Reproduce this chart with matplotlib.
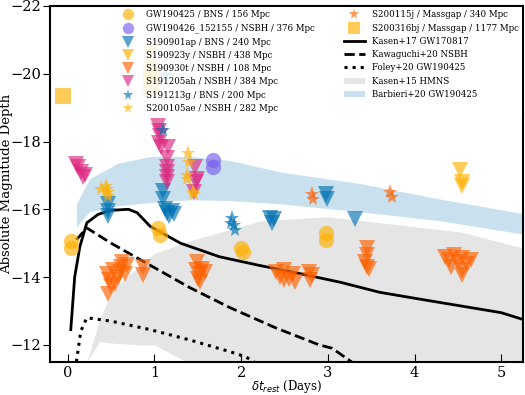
import matplotlib
matplotlib.use('Agg')
import matplotlib.pyplot as plt
import numpy as np

plt.rcParams['font.family'] = 'serif'
plt.rcParams['font.serif'] = ['DejaVu Serif']

# --- observed limits (delta t in days, absolute magnitude) ---
gw190425_x = [0.04, 0.04, 1.04, 1.06, 2.0, 2.02, 2.98, 2.98]
gw190425_y = [-15.05, -14.85, -15.45, -15.25, -14.85, -14.75, -15.3, -15.1]

gw190426_x = [1.67, 1.67]
gw190426_y = [-17.45, -17.25]

s190901ap_x = [0.46, 0.46, 0.47, 1.1, 1.1, 1.12, 1.15, 1.2, 1.17, 1.22, 2.33, 2.38, 2.36, 2.98, 2.99, 3.31]
s190901ap_y = [-16.15, -15.95, -15.8, -16.55, -16.3, -16.0, -15.9, -15.95, -15.8, -15.85, -15.75, -15.7, -15.6, -16.45, -16.3, -15.7]

s190923y_x = [0.95, 0.95, 0.95, 4.53, 4.55, 4.55]
s190923y_y = [-20.6, -20.2, -19.8, -17.15, -16.8, -16.7]

s190930t_x = [0.46, 0.63, 0.87, 0.87, 0.45, 0.48, 0.52, 0.55, 0.58, 0.62, 0.66, 0.68, 0.5, 0.6,
              1.49, 1.48, 1.52, 1.55, 1.5, 1.58, 1.53,
              2.4, 2.45, 2.5, 2.55, 2.6, 2.62, 2.5, 2.78, 2.82, 2.8,
              3.45, 3.45, 3.43, 3.45, 3.47,
              4.35, 4.4, 4.45, 4.5, 4.55, 4.6, 4.65, 4.42, 4.55, 4.55]
s190930t_y = [-13.5, -14.45, -14.3, -14.05, -14.1, -13.9, -14.2, -13.8, -14.0, -14.3, -14.1, -14.35, -13.75, -14.15,
              -14.45, -14.2, -14.1, -14.25, -13.95, -14.15, -13.85,
              -14.15, -14.0, -14.2, -13.95, -14.1, -13.85, -13.9, -14.15, -14.05, -13.9,
              -14.85, -14.65, -14.45, -14.3, -14.25,
              -14.6, -14.5, -14.65, -14.45, -14.55, -14.4, -14.5, -14.3, -14.2, -14.05]

s191205ah_x = [0.1, 0.12, 0.15, 0.18, 0.2,
               1.04, 1.05, 1.06, 1.05, 1.07, 1.16, 1.14, 1.14, 1.14, 1.14, 1.15,
               1.47, 1.49, 1.48, 1.46]
s191205ah_y = [-17.35, -17.25, -17.1, -16.95, -17.0,
               -18.45, -18.3, -18.15, -17.95, -17.85, -17.85, -17.5, -17.25, -17.1, -16.95, -16.8,
               -17.25, -16.9, -16.8, -16.5]

s191213g_x = [1.12, 1.1, 1.9, 1.92, 1.93, 1.88]
s191213g_y = [-19.95, -18.35, -15.75, -15.55, -15.4, -15.6]

s200105ae_x = [0.38, 0.44, 0.46, 0.47, 0.45, 1.39, 1.4, 1.37, 1.38, 1.44, 1.46]
s200105ae_y = [-16.6, -16.7, -16.5, -16.4, -16.6, -17.65, -17.4, -17.0, -16.9, -16.5, -16.45]

s200115j_x = [2.82, 2.83, 3.72, 3.74]
s200115j_y = [-16.45, -16.3, -16.5, -16.35]

s200316bj_x = [-0.06, 0.96, 0.96]
s200316bj_y = [-19.33, -19.6, -20.0]

# --- models ---
kasen17_t = [0.035, 0.08, 0.14, 0.22, 0.35, 0.5, 0.7, 0.8, 0.95, 1.3, 1.75, 2.2, 2.68, 3.14, 3.6, 4.06, 4.53, 5.0, 5.25]
kasen17_m = [-12.45, -14.0, -14.9, -15.6, -15.85, -15.97, -16.0, -15.9, -15.5, -15.0, -14.6, -14.35, -14.1, -13.85, -13.55, -13.35, -13.15, -12.95, -12.75]

kawaguchi_t = [0.1, 0.22, 0.5, 0.95, 1.4, 1.87, 2.4, 2.9, 3.05, 3.3]
kawaguchi_m = [-15.1, -15.45, -15.0, -14.35, -13.7, -13.1, -12.5, -12.0, -11.9, -11.45]

foley_t = [0.1, 0.15, 0.22, 0.5, 0.95, 1.4, 1.87, 2.05, 2.15]
foley_m = [-11.5, -12.4, -12.8, -12.7, -12.45, -12.15, -11.8, -11.65, -11.5]

hmns_t = [0.22, 0.37, 0.52, 0.83, 1.0, 1.37, 1.9, 2.22, 2.99, 3.75, 4.53, 5.3]
hmns_hi = [-11.5, -12.76, -13.64, -14.33, -14.7, -15.04, -15.42, -15.66, -15.78, -15.56, -15.33, -14.83]
hmns_lo = [-11.5, -12.1, -12.05, -12.0, -12.0, -11.5, -11.0, -11.0, -11.0, -11.0, -11.0, -11.0]

barb_t = [0.1, 0.25, 0.57, 0.95, 1.41, 1.87, 2.45, 3.37, 4.3, 5.3]
barb_hi = [-16.16, -16.9, -17.35, -17.56, -17.56, -17.44, -17.1, -16.76, -16.3, -15.85]
barb_lo = [-15.48, -15.93, -16.1, -16.2, -16.28, -16.26, -16.16, -15.93, -15.66, -15.25]

fig, ax = plt.subplots(figsize=(5.25, 3.95), dpi=100)
fig.subplots_adjust(left=0.096, right=0.996, top=0.985, bottom=0.084)

ax.fill_between(hmns_t, hmns_lo, hmns_hi, color='#E5E5E5', lw=0, label='Kasen+15 HMNS', zorder=0)
ax.fill_between(barb_t, barb_lo, barb_hi, color='#C9E0EE', lw=0, label='Barbieri+20 GW190425', zorder=0)

ax.plot(kasen17_t, kasen17_m, 'k-', lw=2, label='Kasen+17 GW170817', zorder=1)
ax.plot(kawaguchi_t, kawaguchi_m, 'k--', lw=2, label='Kawaguchi+20 NSBH', zorder=1)
ax.plot(foley_t, foley_m, 'k:', lw=2.2, label='Foley+20 GW190425', zorder=1)

a = 0.65
ms = 11
ax.plot(gw190425_x, gw190425_y, 'o', ms=ms, color='#FFB000', alpha=a, mew=0, label='GW190425 / BNS / 156 Mpc')
ax.plot(gw190426_x, gw190426_y, 'o', ms=ms, color='#785EF0', alpha=a, mew=0, label='GW190426_152155 / NSBH / 376 Mpc')
ax.plot(s190901ap_x, s190901ap_y, 'v', ms=ms, color='#0072B2', alpha=a, mew=0, label='S190901ap / BNS / 240 Mpc')
ax.plot(s190923y_x, s190923y_y, 'v', ms=ms, color='#FFB000', alpha=a, mew=0, label='S190923y / NSBH / 438 Mpc')
ax.plot(s190930t_x, s190930t_y, 'v', ms=ms, color='#FE6100', alpha=a, mew=0, label='S190930t / NSBH / 108 Mpc')
ax.plot(s191205ah_x, s191205ah_y, 'v', ms=ms, color='#DC267F', alpha=a, mew=0, label='S191205ah / NSBH / 384 Mpc')
ax.plot(s191213g_x, s191213g_y, '*', ms=ms, color='#0072B2', alpha=a, mew=0, label='S191213g / BNS / 200 Mpc')
ax.plot(s200105ae_x, s200105ae_y, '*', ms=ms, color='#FFB000', alpha=a, mew=0, label='S200105ae / NSBH / 282 Mpc')
ax.plot(s200115j_x, s200115j_y, '*', ms=ms, color='#FE6100', alpha=a, mew=0, label='S200115j / Massgap / 340 Mpc')
ax.plot(s200316bj_x, s200316bj_y, 's', ms=ms, color='#FFB000', alpha=a, mew=0, label='S200316bj / Massgap / 1177 Mpc')

ax.set_xlim(-0.2, 5.25)
ax.set_ylim(-11.5, -22)
ax.set_yticks([-22, -20, -18, -16, -14, -12])
ax.set_xticks([0, 1, 2, 3, 4, 5])
ax.tick_params(axis='x', direction='in', length=6, labelsize=10.5, pad=3)
ax.tick_params(axis='y', direction='out', length=5, labelsize=10.5, pad=1.5)
for s in ax.spines.values():
    s.set_linewidth(1.5)

ax.set_xlabel(r'$\delta t_{rest}$ (Days)', fontsize=8.5)
ax.set_ylabel('Absolute Magnitude Depth', fontsize=9.5)
ax.xaxis.set_label_coords(0.5, -0.045)
ax.yaxis.set_label_coords(-0.079, 0.5)

h, l = ax.get_legend_handles_labels()
order = list(range(5, 15)) + [2, 3, 4, 0, 1]
leg = ax.legend([h[i] for i in order], [l[i] for i in order], ncol=2, loc='upper right',
                fontsize=6.2, frameon=True, framealpha=0.85, edgecolor='none',
                markerscale=0.75, labelspacing=0.5, handlelength=2.5, handletextpad=0.75,
                columnspacing=3.4, borderaxespad=0.1)

plt.savefig('out.png', dpi=100)
